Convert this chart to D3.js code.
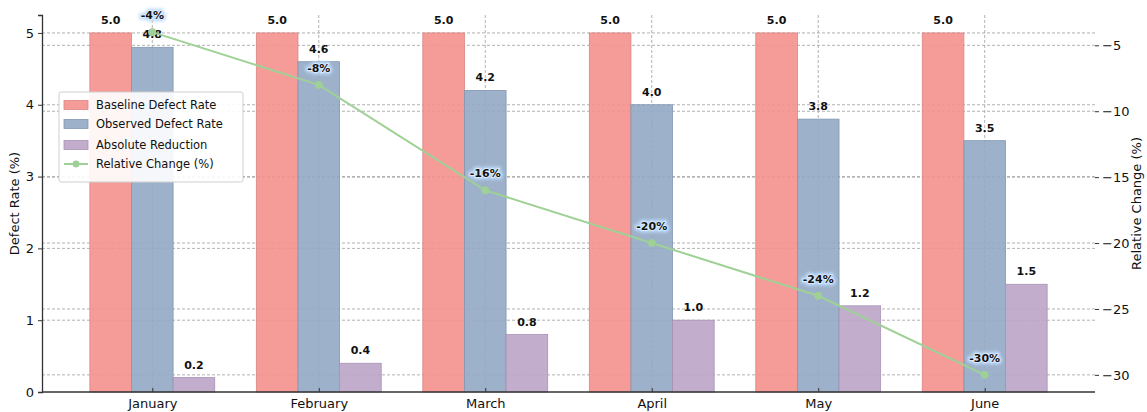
<!DOCTYPE html>
<html>
<head>
<meta charset="utf-8">
<script src="https://cdn.jsdelivr.net/npm/d3@7"></script>
<style>
  html, body { margin: 0; padding: 0; background: #fff; }
  svg { display: block; font-family: "DejaVu Sans", sans-serif; }
</style>
</head>
<body>
<svg id="chart" width="1147" height="412"></svg>
<script>
// Monthly defect-rate figures
const months = ["January", "February", "March", "April", "May", "June"];
const baselineRate = [5.0, 5.0, 5.0, 5.0, 5.0, 5.0];
const observedRate = [4.8, 4.6, 4.2, 4.0, 3.8, 3.5];
const absoluteReduction = [0.2, 0.4, 0.8, 1.0, 1.2, 1.5];
const relativeChange = [-4, -8, -16, -20, -24, -30];
const leftTicks = [0, 1, 2, 3, 4, 5];
const rightTicks = [-30, -25, -20, -15, -10, -5];

const seriesNames = ["Baseline Defect Rate", "Observed Defect Rate", "Absolute Reduction", "Relative Change (%)"];
const barColors = ["#f4918e", "#93a8c4", "#bda4c8"];
const barEdges = ["#d98583", "#8397b2", "#a891b4"];
const lineColor = "#9fd096";

const svg = d3.select("#chart");
const plot = { left: 42, right: 1095, top: 15, bottom: 392 };

// Bars offset by one bar width around each month centre
const barW = 0.25;
const x = d3.scaleLinear().domain([-0.6625, 5.6625]).range([plot.left, plot.right]);
const yL = d3.scaleLinear().domain([0, 5.25]).range([plot.bottom, plot.top]);
const yR = d3.scaleLinear().domain([-31.3, -2.7]).range([plot.bottom, plot.top]);

const defs = svg.append("defs");
const glow = defs.append("filter").attr("id", "glow").attr("x", "-30%").attr("y", "-50%").attr("width", "160%").attr("height", "200%");
glow.append("feGaussianBlur").attr("stdDeviation", 1.6);

// Grid lines: left axis, right axis and month verticals
const grid = svg.append("g").attr("stroke", "#9a9a9a").attr("stroke-width", 0.9)
  .attr("stroke-dasharray", "3,2").attr("opacity", 0.85);
grid.selectAll(".gl").data(leftTicks.filter(d => d > 0)).join("line")
  .attr("x1", plot.left).attr("x2", plot.right)
  .attr("y1", d => yL(d)).attr("y2", d => yL(d));
grid.selectAll(".gr").data(rightTicks).join("line")
  .attr("x1", plot.left).attr("x2", plot.right)
  .attr("y1", d => yR(d)).attr("y2", d => yR(d));
grid.selectAll(".gv").data(months.map((m, i) => i)).join("line")
  .attr("x1", d => x(d)).attr("x2", d => x(d))
  .attr("y1", plot.top).attr("y2", plot.bottom);

// Grouped bars
const barSeries = [baselineRate, observedRate, absoluteReduction];
const barsG = svg.append("g");
barSeries.forEach((vals, s) => {
  const off = (s - 1) * barW;
  barsG.append("g").selectAll("rect").data(vals).join("rect")
    .attr("x", (d, i) => x(i + off - barW / 2))
    .attr("width", x(barW) - x(0))
    .attr("y", d => yL(d))
    .attr("height", d => yL(0) - yL(d))
    .attr("fill", barColors[s])
    .attr("fill-opacity", 0.9)
    .attr("stroke", barEdges[s])
    .attr("stroke-width", 0.8);
  // value labels above each bar
  barsG.append("g").selectAll("text").data(vals).join("text")
    .attr("x", (d, i) => x(i + off))
    .attr("y", d => yL(d) - 9)
    .attr("text-anchor", "middle")
    .attr("font-size", 11).attr("font-weight", "bold").attr("fill", "#111")
    .text(d => d.toFixed(1));
});

// Axes
const axL = d3.axisLeft(yL).tickValues(leftTicks).tickSize(4).tickPadding(4).tickFormat(d3.format("d"));
const gL = svg.append("g").attr("transform", `translate(${plot.left},0)`).call(axL);
gL.select(".domain").attr("stroke", "#333").attr("stroke-width", 1.3);
gL.selectAll(".tick line").attr("stroke", "#333");
gL.selectAll("text").attr("font-size", 13).attr("fill", "#111").attr("font-family", "DejaVu Sans");

const axR = d3.axisRight(yR).tickValues(rightTicks).tickSize(4).tickPadding(3)
  .tickFormat(d => d < 0 ? "\u2212" + Math.abs(d) : d);
const gR = svg.append("g").attr("transform", `translate(${plot.right},0)`).call(axR);
gR.select(".domain").remove();
gR.selectAll(".tick line").attr("stroke", "#333");
gR.selectAll("text").attr("font-size", 13).attr("fill", "#111").attr("font-family", "DejaVu Sans");

const axB = d3.axisBottom(x).tickValues(months.map((m, i) => i)).tickSize(-4).tickPadding(7)
  .tickFormat(i => months[i]);
const gB = svg.append("g").attr("transform", `translate(0,${plot.bottom})`).call(axB);
gB.select(".domain").attr("stroke", "#333").attr("stroke-width", 1.3).attr("d", `M${plot.left},0H${plot.right}`);
gB.selectAll(".tick line").attr("stroke", "#333");
gB.selectAll("text").attr("font-size", 13).attr("fill", "#111").attr("font-family", "DejaVu Sans");

// Axis titles
svg.append("text").attr("transform", `translate(19,${(plot.top + plot.bottom) / 2}) rotate(-90)`)
  .attr("text-anchor", "middle").attr("font-size", 13).attr("fill", "#111").text("Defect Rate (%)");
svg.append("text").attr("transform", `translate(1141,${(plot.top + plot.bottom) / 2}) rotate(-90)`)
  .attr("text-anchor", "middle").attr("font-size", 13).attr("fill", "#111").text("Relative Change (%)");

// Relative change line on the right axis
const line = d3.line().x((d, i) => x(i)).y(d => yR(d));
svg.append("path").datum(relativeChange).attr("d", line)
  .attr("fill", "none").attr("stroke", lineColor).attr("stroke-width", 2);
svg.append("g").selectAll("circle").data(relativeChange).join("circle")
  .attr("cx", (d, i) => x(i)).attr("cy", d => yR(d)).attr("r", 3.6)
  .attr("fill", lineColor).attr("stroke", lineColor);

// Percentage labels with a soft halo
const pctG = svg.append("g");
const pctPos = relativeChange.map((d, i) => ({ d, i }));
pctG.selectAll(".halo").data(pctPos).join("text")
  .attr("x", p => x(p.i)).attr("y", p => yR(p.d) - 13)
  .attr("text-anchor", "middle").attr("font-size", 11).attr("font-weight", "bold")
  .attr("fill", "#cfe6ff").attr("stroke", "#bcdcff").attr("stroke-width", 5)
  .attr("stroke-linejoin", "round").attr("filter", "url(#glow)")
  .text(p => p.d + "%");
pctG.selectAll(".lbl").data(pctPos).join("text")
  .attr("x", p => x(p.i)).attr("y", p => yR(p.d) - 13)
  .attr("text-anchor", "middle").attr("font-size", 11).attr("font-weight", "bold")
  .attr("fill", "#111").attr("stroke", "#ffffff").attr("stroke-width", 1.5)
  .attr("paint-order", "stroke").attr("stroke-opacity", 0.6)
  .text(p => p.d + "%");

// Legend
const lg = svg.append("g").attr("transform", "translate(59,92)");
lg.append("rect").attr("width", 184).attr("height", 90).attr("rx", 2)
  .attr("fill", "#fff").attr("fill-opacity", 0.9).attr("stroke", "#cfcfcf");
const rowsY = [13, 32, 53, 72];
seriesNames.forEach((name, k) => {
  const yy = rowsY[k];
  if (k < 3) {
    lg.append("rect").attr("x", 5).attr("y", yy - 4.5).attr("width", 24).attr("height", 9)
      .attr("fill", barColors[k]).attr("fill-opacity", 0.9).attr("stroke", barEdges[k]).attr("stroke-width", 0.8);
  } else {
    lg.append("line").attr("x1", 5).attr("x2", 29).attr("y1", yy).attr("y2", yy)
      .attr("stroke", lineColor).attr("stroke-width", 2);
    lg.append("circle").attr("cx", 17).attr("cy", yy).attr("r", 3.4).attr("fill", lineColor);
  }
  lg.append("text").attr("x", 37).attr("y", yy).attr("dy", "0.35em")
    .attr("font-size", 11.5).attr("fill", "#111").text(name);
});
</script>
</body>
</html>
